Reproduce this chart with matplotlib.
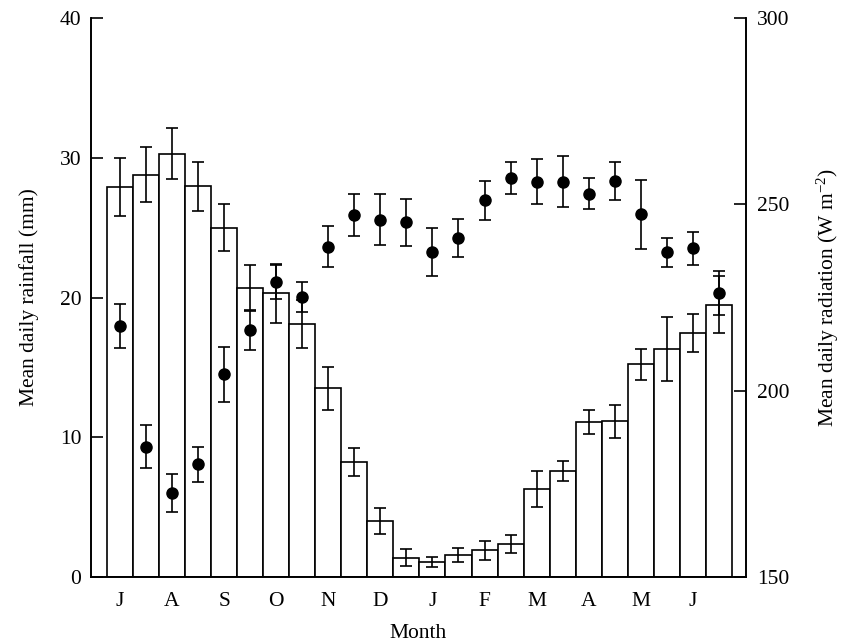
import numpy as np
import matplotlib
matplotlib.use("Agg")
import matplotlib.pyplot as plt

plt.rcParams['font.family'] = ['Liberation Serif', 'DejaVu Serif']
plt.rcParams['mathtext.fontset'] = 'custom'
plt.rcParams['mathtext.rm'] = 'Liberation Serif'
plt.rcParams['mathtext.it'] = 'Liberation Serif:italic'
plt.rcParams['font.size'] = 15.5

# half-monthly values, July to June
month_labels = ['J', 'A', 'S', 'O', 'N', 'D', 'J', 'F', 'M', 'A', 'M', 'J']

rainfall = [27.9, 28.8, 30.3, 27.95, 25.0, 20.7, 20.3, 18.1, 13.5, 8.25, 4.0, 1.38,
            1.1, 1.55, 1.93, 2.38, 6.32, 7.61, 11.07, 11.14, 15.22, 16.3, 17.46, 19.5]
rainfall_err = [2.1, 1.95, 1.8, 1.75, 1.7, 1.6, 2.1, 1.7, 1.55, 1.0, 0.95, 0.6,
                0.35, 0.5, 0.68, 0.65, 1.3, 0.72, 0.85, 1.17, 1.12, 2.3, 1.33, 2.05]

radiation = [217.3, 185.0, 172.5, 180.2, 204.4, 216.2, 229.2, 225.1, 238.6, 247.1, 245.9, 245.2,
             237.2, 241.0, 251.1, 257.1, 256.1, 256.1, 252.9, 256.3, 247.3, 237.2, 238.2, 226.1]
radiation_err = [5.9, 5.75, 5.1, 4.7, 7.4, 5.3, 4.5, 4.1, 5.5, 5.6, 6.8, 6.3,
                 6.5, 5.1, 5.2, 4.2, 6.1, 6.8, 4.2, 5.0, 9.2, 3.9, 4.5, 5.9]

x = np.arange(len(rainfall))

fig = plt.figure(figsize=(8.47, 6.43), dpi=100)
ax1 = fig.add_axes([0.1074, 0.1026, 0.7734, 0.8694])
ax2 = ax1.twinx()

lw = 1.2
ax1.bar(x, rainfall, width=1.0, color='white', edgecolor='black', linewidth=lw, zorder=2)
ax1.errorbar(x, rainfall, yerr=rainfall_err, fmt='none', ecolor='black',
             elinewidth=lw, capsize=4.6, capthick=lw, zorder=3)

ax2.errorbar(x, radiation, yerr=radiation_err, fmt='o', color='black', markersize=8,
             ecolor='black', elinewidth=lw, capsize=4.6, capthick=lw, zorder=4)

ax1.set_xlim(-1.11, 24.04)
ax1.set_ylim(0, 40)
ax2.set_ylim(150, 300)

ax1.set_yticks([0, 10, 20, 30, 40])
ax2.set_yticks([150, 200, 250, 300])
ax1.set_xticks(x[::2])
ax1.set_xticklabels(month_labels)

ax1.tick_params(axis='y', direction='in', length=8.5, width=lw, pad=7)
ax2.tick_params(axis='y', direction='in', length=8.5, width=lw, pad=8)
ax1.tick_params(axis='x', length=0, pad=11)

for ax in (ax1, ax2):
    ax.spines['top'].set_visible(False)
    for s in ('left', 'right', 'bottom'):
        ax.spines[s].set_linewidth(lw)

ax1.set_xlabel('Month', labelpad=9)
ax1.set_ylabel('Mean daily rainfall (mm)', labelpad=15)
ax2.set_ylabel('Mean daily radiation (W m$^{-2}$)', labelpad=18)

fig.savefig('out.png', dpi=100)
